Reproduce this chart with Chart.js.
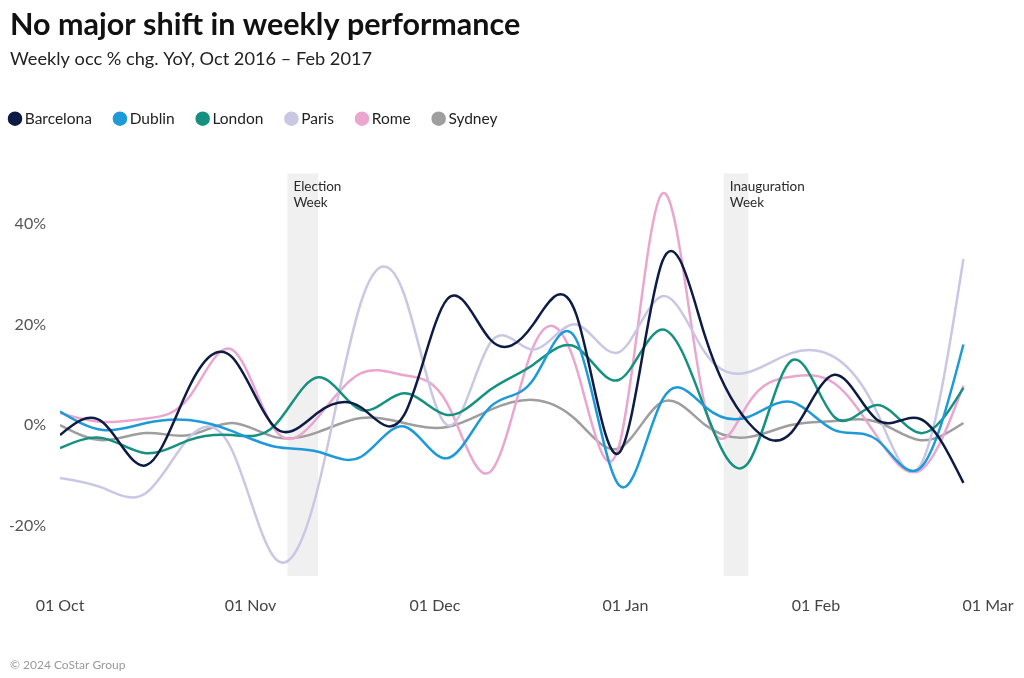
<!DOCTYPE html>
<html><head><meta charset="utf-8">
<script src="https://cdn.jsdelivr.net/npm/chart.js@4.4.1/dist/chart.umd.min.js"></script>
<style>html,body{margin:0;padding:0;background:#fff;}canvas{display:block;}</style>
</head><body>
<canvas id="c" width="1024" height="678"></canvas>
<script>
// ---- data ----
const weekDates = ['2016-10-01','2016-10-08','2016-10-15','2016-10-22','2016-10-29','2016-11-05','2016-11-12','2016-11-19','2016-11-26','2016-12-03','2016-12-10','2016-12-17','2016-12-24','2016-12-31','2017-01-07','2017-01-14','2017-01-21','2017-01-28','2017-02-04','2017-02-11','2017-02-18','2017-02-25'];
const barcelona = [-2, 0.5, -8, 7.5, 13.5, -0.5, 2.5, 3.5, 2, 25, 17, 20, 22, -5.5, 32.5, 17.5, 0.5, -1.5, 10, 1, 1.2, -11.5];
const dublin    = [2.7, -1, 0.4, 1, -1.2, -4.3, -5.3, -6.3, -0.3, -6.6, 3.6, 9, 17, -12, 5, 3.6, 1.6, 4.6, -1, -3, -8.5, 16];
const london    = [-4.6, -2.6, -5.6, -3, -2, 0, 9.5, 3, 6.3, 2, 7, 12, 15.5, 9, 19, 3, -7.5, 12.8, 1.6, 4, -1.6, 7.4];
const paris     = [-10.5, -12.5, -13.5, -2.5, -5, -26.5, -12.3, 24.5, 26, 0, 16.3, 15, 20, 14.5, 25.6, 14.3, 10.5, 14.3, 13.5, 2.4, -8, 33];
const rome      = [2.4, 0.6, 1.3, 5.5, 15, -1, 1.6, 10.3, 9.9, 4.3, -9.3, 15.5, 11.5, -4, 46, 3.5, 4.3, 9.6, 8.3, -2.4, -9, 7.8];
const sydney    = [0, -3, -1.6, -2, 0.4, -2.4, -1.4, 1.4, 0.4, -0.4, 3, 5, 1, -4.6, 4.6, 0, -2.4, 0, 0.8, 0.6, -3, 0.4];

const seriesNames  = ['Barcelona','Dublin','London','Paris','Rome','Sydney'];
const seriesValues = [barcelona, dublin, london, paris, rome, sydney];
const seriesColors = ['#0d1b45','#1f9ad8','#17917f','#c9c7e4','#eba6cf','#9e9e9e'];

const monthTicks      = ['2016-10-01','2016-11-01','2016-12-01','2017-01-01','2017-02-01','2017-03-01'];
const monthTickLabels = ['01 Oct','01 Nov','01 Dec','01 Jan','01 Feb','01 Mar'];
const yTicks = [-20, 0, 20, 40];

const eventStarts = ['2016-11-07','2017-01-17'];
const eventEnds   = ['2016-11-12','2017-01-21'];
const eventLabels = [['Election','Week'],['Inauguration','Week']];

const titleText    = 'No major shift in weekly performance';
const subtitleText = 'Weekly occ % chg. YoY, Oct 2016 \u2013 Feb 2017';
const footerText   = '\u00a9 2024 CoStar Group';

// ---- helpers ----
const toMs = s => Date.parse(s + 'T00:00:00Z');
const FONT = 'Lato, "Source Sans Pro", "Open Sans", sans-serif';
Chart.defaults.font.family = FONT;

const datasets = seriesNames.map((name, i) => ({
  label: name,
  data: weekDates.map((d, j) => ({x: toMs(d), y: seriesValues[i][j]})),
  borderColor: seriesColors[i],
  backgroundColor: seriesColors[i],
  borderWidth: 2.5,
  pointRadius: 0,
  pointHoverRadius: 0,
  tension: 0.4,
  fill: false
}));

// natural cubic spline control points (computed from the library's point pixels)
function naturalControls(v) {
  const n = v.length - 1;
  const a = new Array(n), b = new Array(n), r = new Array(n);
  a[0] = 0; b[0] = 2; r[0] = v[0] + 2 * v[1];
  for (let i = 1; i < n - 1; ++i) { a[i] = 1; b[i] = 4; r[i] = 4 * v[i] + 2 * v[i + 1]; }
  a[n - 1] = 2; b[n - 1] = 7; r[n - 1] = 8 * v[n - 1] + v[n];
  for (let i = 1; i < n; ++i) { const m = a[i] / b[i - 1]; b[i] -= m; r[i] -= m * r[i - 1]; }
  a[n - 1] = r[n - 1] / b[n - 1];
  for (let i = n - 2; i >= 0; --i) a[i] = (r[i] - a[i + 1]) / b[i];
  b[n - 1] = (v[n] + a[n - 1]) / 2;
  for (let i = 0; i < n - 1; ++i) b[i] = 2 * v[i + 1] - a[i + 1];
  return [a, b];
}
const naturalCurve = {
  id: 'naturalCurve',
  beforeDatasetDraw(chart, args) {
    const meta = args.meta, line = meta.dataset, pts = meta.data, n = pts.length;
    line.updateControlPoints(chart.chartArea, 'x');
    const [ax, bx] = naturalControls(pts.map(p => p.x));
    const [ay, by] = naturalControls(pts.map(p => p.y));
    for (let i = 0; i < n - 1; i++) {
      pts[i].cp2x = ax[i]; pts[i].cp2y = ay[i];
      pts[i + 1].cp1x = bx[i]; pts[i + 1].cp1y = by[i];
    }
    line._path = undefined;
  }
};

const legendSpacing = {
  id: 'legendSpacing',
  beforeInit(chart) {
    const fit = chart.legend.fit;
    chart.legend.fit = function () { fit.bind(chart.legend)(); this.height += 37; };
  },
  afterLayout(chart) {
    chart.legend.left -= 23;
  }
};

const bands = {
  id: 'bands',
  beforeDatasetsDraw(chart) {
    const {ctx, chartArea, scales: {x}} = chart;
    ctx.save();
    eventStarts.forEach((s, i) => {
      const x0 = x.getPixelForValue(toMs(s));
      const x1 = x.getPixelForValue(toMs(eventEnds[i]));
      ctx.fillStyle = '#f0f0f0';
      ctx.fillRect(x0, chartArea.top, x1 - x0, chartArea.bottom - chartArea.top);
      ctx.fillStyle = '#2a2a2a';
      ctx.font = '13.5px ' + FONT;
      ctx.textBaseline = 'middle';
      ctx.textAlign = 'left';
      eventLabels[i].forEach((t, k) => ctx.fillText(t, x0 + 6, chartArea.top + 13 + k * 16.5));
    });
    ctx.restore();
  }
};

const footer = {
  id: 'footer',
  afterDraw(chart) {
    const {ctx} = chart;
    ctx.save();
    ctx.fillStyle = '#9a9a9a';
    ctx.font = '12px ' + FONT;
    ctx.textBaseline = 'middle';
    ctx.textAlign = 'left';
    ctx.fillText(footerText, 10, 665);
    ctx.restore();
  }
};

new Chart(document.getElementById('c'), {
  type: 'line',
  data: {datasets},
  plugins: [naturalCurve, legendSpacing, bands, footer],
  options: {
    responsive: false,
    animation: false,
    layout: {padding: {left: 10, right: 36, top: 0, bottom: 0}},
    plugins: {
      title: {display: true, text: titleText, align: 'start', color: '#111',
        font: {size: 30.5, weight: 'bold'}, padding: {top: 7, bottom: 0}},
      subtitle: {display: true, text: subtitleText, align: 'start', color: '#222',
        font: {size: 18.2}, padding: {top: 5, bottom: 14.5}},
      legend: {display: true, position: 'top', align: 'start',
        labels: {usePointStyle: true, pointStyle: 'circle', boxWidth: 4, boxHeight: 8.5,
          padding: 26, color: '#222', font: {size: 15.5}}},
      tooltip: {enabled: false}
    },
    scales: {
      x: {
        type: 'linear',
        min: toMs(monthTicks[0]),
        max: toMs(monthTicks[monthTicks.length - 1]),
        grid: {display: false, drawTicks: false},
        border: {display: false},
        afterBuildTicks: s => { s.ticks = monthTicks.map(d => ({value: toMs(d)})); },
        afterFit: s => { s.height = 102; s.paddingRight = 0; s.paddingLeft = 0; },
        ticks: {
          autoSkip: false, maxRotation: 0, padding: 20, color: '#444', font: {size: 16},
          callback: (v, i) => monthTickLabels[i]
        }
      },
      y: {
        min: -30, max: 50,
        grid: {display: false, drawTicks: false},
        border: {display: false},
        afterBuildTicks: s => { s.ticks = yTicks.map(v => ({value: v})); },
        afterFit: s => { s.width = 50; },
        ticks: {padding: 14, color: '#555', font: {size: 16}, callback: v => v + '%'}
      }
    }
  }
});
</script>
</body></html>
